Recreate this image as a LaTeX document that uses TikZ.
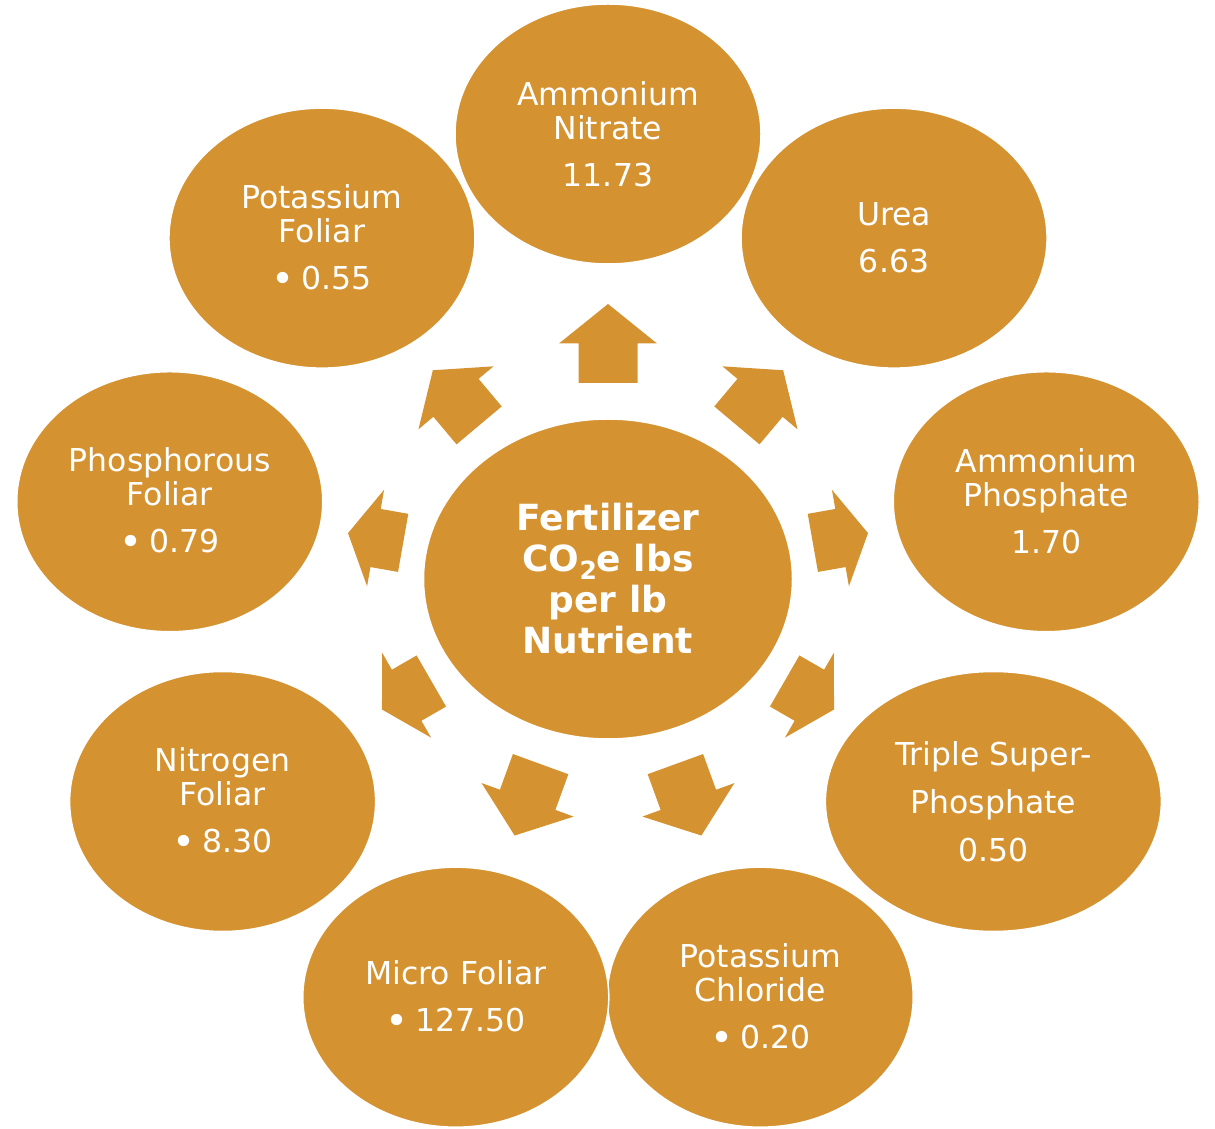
\documentclass[tikz,border=0pt]{standalone}
\usepackage{fontspec}
\setmainfont{DejaVu Sans}
\usetikzlibrary{shapes.geometric}
\definecolor{gold}{RGB}{213,146,48}
\tikzset{
  outer/.style={ellipse, fill=gold, draw=white, line width=1.5pt,
    minimum width=306pt, minimum height=260pt, inner sep=0pt,
    text=white, align=center, font=\fontsize{31.5}{34}\selectfont},
  hub/.style={ellipse, fill=gold, draw=white, line width=1.5pt,
    minimum width=369pt, minimum height=320pt, inner sep=0pt,
    text=white, align=center, font=\bfseries\fontsize{36}{41}\selectfont},
  blk/.style={fill=gold}
}
\newcommand\blkarrow[3]{%
  \pgfmathsetmacro\arta{#2-#3/2}\pgfmathsetmacro\artb{#2+#3/2}%
  \fill[blk, shift={(c)}, rotate=#1] (\arta,-29.5) -- (#2,-29.5) -- (#2,-49)
    -- (\artb,0) -- (#2,49) -- (#2,29.5) -- (\arta,29.5) -- cycle;}
\newcommand\bul{\raisebox{-3pt}{\fontsize{39}{34}\selectfont\textbullet}\hspace{7pt}}
\begin{document}
\begin{tikzpicture}[x=1pt,y=1pt]
\useasboundingbox (0,0) rectangle (1215,1128);
\coordinate (c) at (608,549);
\node[hub] (hub) at (c) {Fertilizer\\CO\raisebox{-8pt}{\fontsize{25}{25}\selectfont 2}e lbs\\per lb\\Nutrient};
\node[outer] (an) at ([shift={(90:445)}]c) {Ammonium\\Nitrate\\[13pt]11.73};
\node[outer] (ur) at ([shift={(50:445)}]c) {Urea\\[13pt]6.63};
\node[outer] (ap) at ([shift={(10:445)}]c) {Ammonium\\Phosphate\\[13pt]1.70};
\node[outer, minimum width=336pt] (ts) at ([shift={(-30:445)}]c) {Triple Super-\\[14pt]Phosphate\\[14pt]0.50};
\node[outer] (pc) at ([shift={(-70:445)}]c) {Potassium\\Chloride\\[13pt]\bul 0.20};
\node[outer] (mf) at ([shift={(-110:445)}]c) {Micro Foliar\\[13pt]\bul 127.50};
\node[outer] (nf) at ([shift={(-150:445)}]c) {Nitrogen\\Foliar\\[13pt]\bul 8.30};
\node[outer] (pf) at ([shift={(170:445)}]c) {Phosphorous\\Foliar\\[13pt]\bul 0.79};
\node[outer] (kf) at ([shift={(130:445)}]c) {Potassium\\Foliar\\[13pt]\bul 0.55};
\blkarrow{90}{235.5}{79}
\blkarrow{50}{236.5}{72}
\blkarrow{130}{236.5}{72}
\blkarrow{10}{236}{56}
\blkarrow{170}{236}{56}
\blkarrow{-30}{232.5}{57}
\blkarrow{-150}{232.5}{57}
\blkarrow{-70}{235}{76}
\blkarrow{-110}{235}{76}
\end{tikzpicture}
\end{document}
